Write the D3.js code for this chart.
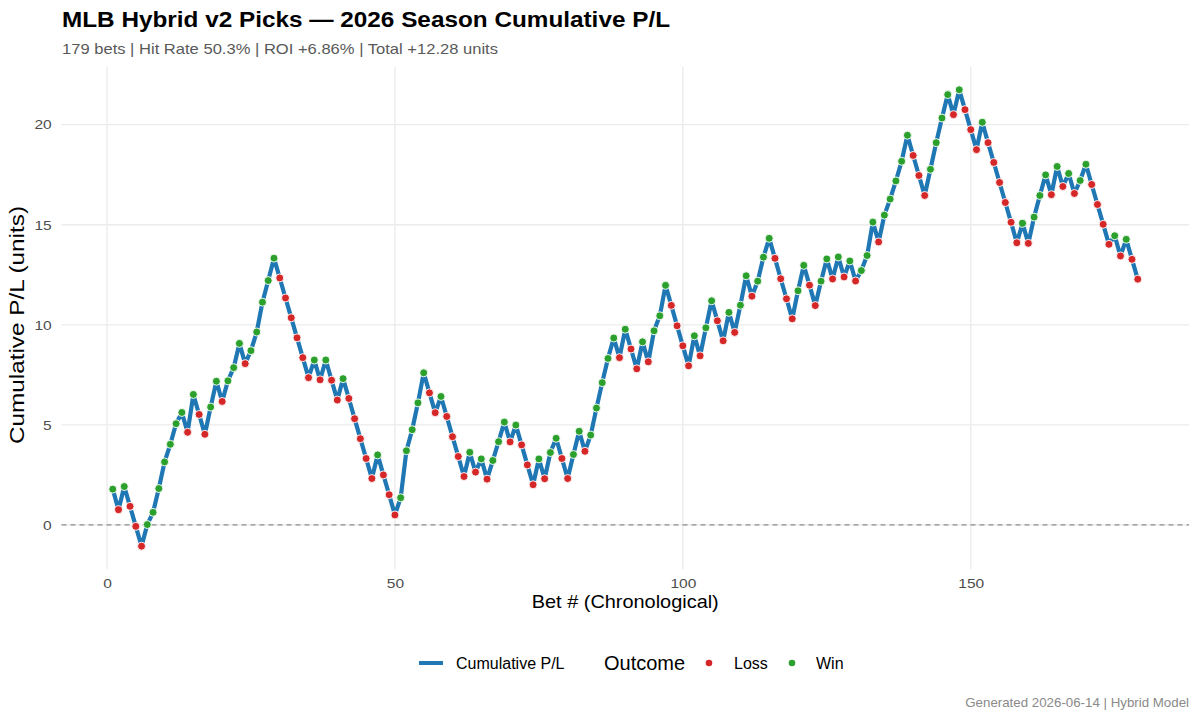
<!DOCTYPE html>
<html>
<head>
<meta charset="utf-8">
<script src="https://cdn.jsdelivr.net/npm/d3@7/dist/d3.min.js"></script>
<style>
  html, body { margin: 0; padding: 0; background: #fff; }
  svg { display: block; font-family: "Liberation Sans", Arial, Helvetica, sans-serif; }
</style>
</head>
<body>
<svg id="chart" width="1200" height="720"></svg>
<script>
// ---- Data ----
const cumulativePL = [
  1.79, 0.76, 1.92, 0.93, -0.07, -1.06, 0.02, 0.63, 1.82, 3.15,
  4.03, 5.06, 5.62, 4.63, 6.52, 5.52, 4.53, 5.89, 7.18, 6.17,
  7.20, 7.86, 9.07, 8.06, 8.71, 9.64, 11.13, 12.21, 13.33, 12.34,
  11.34, 10.35, 9.35, 8.36, 7.36, 8.24, 7.25, 8.24, 7.23, 6.24,
  7.31, 6.32, 5.31, 4.31, 3.32, 2.32, 3.50, 2.50, 1.51, 0.50,
  1.36, 3.71, 4.76, 6.10, 7.60, 6.60, 5.61, 6.42, 5.42, 4.41,
  3.42, 2.42, 3.63, 2.64, 3.30, 2.29, 3.22, 4.16, 5.14, 4.15,
  4.99, 4.00, 3.00, 2.01, 3.30, 2.31, 3.62, 4.33, 3.32, 2.32,
  3.52, 4.68, 3.68, 4.49, 5.84, 7.11, 8.32, 9.34, 8.36, 9.78,
  8.79, 7.80, 9.15, 8.15, 9.70, 10.45, 11.97, 10.97, 9.95, 8.95,
  7.95, 9.45, 8.45, 9.85, 11.20, 10.20, 9.20, 10.62, 9.62, 10.98,
  12.45, 11.43, 12.18, 13.38, 14.32, 13.32, 12.30, 11.30, 10.30, 11.70,
  12.97, 11.98, 10.96, 12.18, 13.29, 12.29, 13.39, 12.39, 13.19, 12.19,
  12.71, 13.46, 15.13, 14.14, 15.48, 16.28, 17.19, 18.17, 19.47, 18.46,
  17.46, 16.46, 17.77, 19.10, 20.33, 21.50, 20.50, 21.74, 20.75, 19.75,
  18.75, 20.12, 19.10, 18.11, 17.11, 16.11, 15.12, 14.10, 15.07, 14.07,
  15.38, 16.46, 17.49, 16.50, 17.91, 16.91, 17.56, 16.56, 17.21, 18.02,
  17.01, 16.01, 15.02, 14.02, 14.45, 13.44, 14.27, 13.27, 12.28
];
const outcomes = (
  "WLWLLLWWWW" + "WWWLWLLWWL" + "WWWLWWWWWL" +
  "LLLLLWLWLL" + "WLLLLLWLLL" + "WWWWWLLWLL" +
  "LLWLWLWWWL" + "WLLLWLWWLL" + "WWLWWWWWLW" +
  "LLWLWWWLLL" + "LWLWWLLWLW" + "WLWWWLLLLW" +
  "WLLWWLWLWL" + "WWWLWWWWWL" + "LLWWWWLWLL" +
  "LWLLLLLLWL" + "WWWLWLWLWW" + "LLLLWLWLL"
).split("").map(c => c === "W" ? "Win" : "Loss");
const betNumbers = cumulativePL.map((_, i) => i + 1);
const xTicks = [0, 50, 100, 150];
const yTicks = [0, 5, 10, 15, 20];
const outcomeLevels = ["Loss", "Win"];
const outcomeColors = ["#d62728", "#2ca02c"];
const lineColor = "#1f77b4";

const titleText = "MLB Hybrid v2 Picks \u2014 2026 Season Cumulative P/L";
const subtitleText = "179 bets | Hit Rate 50.3% | ROI +6.86% | Total +12.28 units";
const captionText = "Generated 2026-06-14 | Hybrid Model";

const rows = betNumbers.map((b, i) => ({ bet: b, pl: cumulativePL[i], outcome: outcomes[i] }));

// helpers: the reference text renders a little wider than Liberation Sans
function widen(sel, factor) {
  sel.each(function () {
    const w = this.getComputedTextLength();
    d3.select(this).attr("textLength", w * factor).attr("lengthAdjust", "spacingAndGlyphs");
  });
  return sel;
}
function fitTo(sel, width) {
  return sel.attr("textLength", width).attr("lengthAdjust", "spacingAndGlyphs");
}

// ---- Layout ----
const svg = d3.select("#chart");
const panel = { left: 61.5, right: 1189, top: 67, bottom: 569 };

const xExt = d3.extent(betNumbers);
const xPad = (xExt[1] - xExt[0]) * 0.05;
const yExt = d3.extent(cumulativePL);
const yPad = (yExt[1] - yExt[0]) * 0.05;

const x = d3.scaleLinear().domain([xExt[0] - xPad, xExt[1] + xPad]).range([panel.left, panel.right]);
const y = d3.scaleLinear().domain([yExt[0] - yPad, yExt[1] + yPad]).range([panel.bottom, panel.top]);
const color = d3.scaleOrdinal().domain(outcomeLevels).range(outcomeColors);

// Grid
const grid = svg.append("g");
grid.selectAll(".gy").data(yTicks).join("line")
  .attr("x1", panel.left).attr("x2", panel.right)
  .attr("y1", d => y(d)).attr("y2", d => y(d))
  .attr("stroke", "#ebebeb").attr("stroke-width", 1.3);
grid.selectAll(".gx").data(xTicks).join("line")
  .attr("y1", panel.top).attr("y2", panel.bottom)
  .attr("x1", d => x(d)).attr("x2", d => x(d))
  .attr("stroke", "#ebebeb").attr("stroke-width", 1.3);

// Zero reference line
svg.append("line")
  .attr("x1", panel.left).attr("x2", panel.right)
  .attr("y1", y(0)).attr("y2", y(0))
  .attr("stroke", "#8c8c8c").attr("stroke-width", 1.2)
  .attr("stroke-dasharray", "5,4");

// Axes (text only, ggplot minimal style)
const xAxis = svg.append("g").attr("transform", `translate(0,${panel.bottom})`)
  .call(d3.axisBottom(x).tickValues(xTicks).tickSize(0).tickPadding(9.8));
const yAxis = svg.append("g").attr("transform", `translate(${panel.left},0)`)
  .call(d3.axisLeft(y).tickValues(yTicks).tickSize(0).tickPadding(9.8));
[xAxis, yAxis].forEach(a => {
  a.select(".domain").remove();
  const t = a.selectAll("text").attr("fill", "#4d4d4d").style("font-size", "13.5px")
    .style("font-family", '"Liberation Sans", Arial, sans-serif');
  widen(t, 1.15);
});

// Line
const line = d3.line().x(d => x(d.bet)).y(d => y(d.pl));
svg.append("path").datum(rows)
  .attr("d", line).attr("fill", "none")
  .attr("stroke", lineColor).attr("stroke-width", 4.2)
  .attr("stroke-linejoin", "round");

// Points
svg.append("g").selectAll("circle").data(rows).join("circle")
  .attr("cx", d => x(d.bet)).attr("cy", d => y(d.pl)).attr("r", 4)
  .attr("fill", d => color(d.outcome))
  .attr("stroke", "#fff").attr("stroke-width", 0.9);

// Titles
fitTo(svg.append("text").attr("x", 62).attr("y", 27)
  .style("font-size", "22.5px").style("font-weight", "bold").attr("fill", "#000")
  .text(titleText), 608);
fitTo(svg.append("text").attr("x", 62).attr("y", 54)
  .style("font-size", "14.5px").attr("fill", "#595959")
  .text(subtitleText), 436);
fitTo(svg.append("text").attr("x", (panel.left + panel.right) / 2).attr("y", 608)
  .attr("text-anchor", "middle").style("font-size", "18.5px").attr("fill", "#000")
  .text("Bet # (Chronological)"), 187);
fitTo(svg.append("text")
  .attr("transform", `translate(24,325) rotate(-90)`)
  .attr("text-anchor", "middle").style("font-size", "20px").attr("fill", "#000")
  .text("Cumulative P/L (units)"), 238);
svg.append("text").attr("x", 1189).attr("y", 707)
  .attr("text-anchor", "end").style("font-size", "13.3px").attr("fill", "#8a8a8a")
  .text(captionText);

// Legend
const lg = svg.append("g").attr("transform", "translate(0,663)");
lg.append("line").attr("x1", 419).attr("x2", 443).attr("y1", 0).attr("y2", 0)
  .attr("stroke", lineColor).attr("stroke-width", 4);
lg.append("text").attr("x", 456).attr("y", 6).style("font-size", "16px").attr("fill", "#000")
  .text("Cumulative P/L");
lg.append("text").attr("x", 604).attr("y", 7).style("font-size", "20px").attr("fill", "#000")
  .text("Outcome");
const legItems = [{ k: "Loss", cx: 709, tx: 734 }, { k: "Win", cx: 792, tx: 816 }];
legItems.forEach(it => {
  lg.append("circle").attr("cx", it.cx).attr("cy", 0).attr("r", 3.3).attr("fill", color(it.k));
  lg.append("text").attr("x", it.tx).attr("y", 6).style("font-size", "16px").attr("fill", "#000").text(it.k);
});
</script>
</body>
</html>
